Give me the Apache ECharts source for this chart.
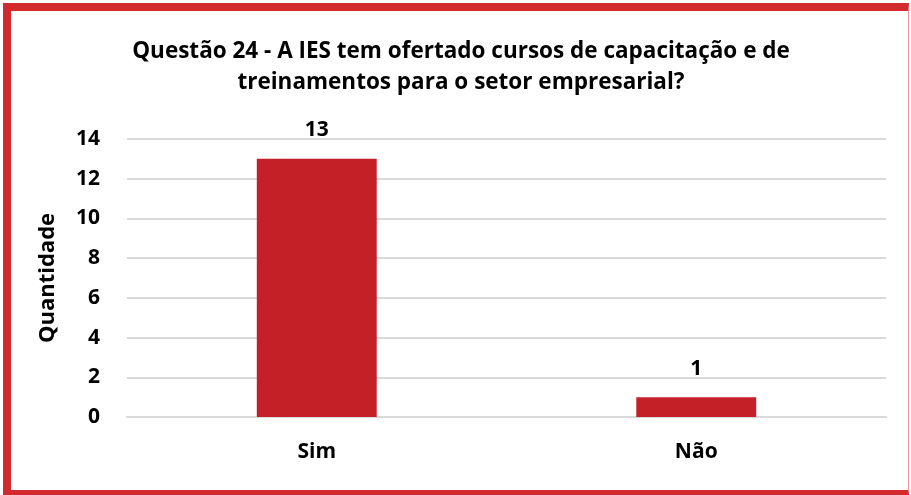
<!DOCTYPE html>
<html>
<head>
<meta charset="utf-8">
<script src="https://cdn.jsdelivr.net/npm/echarts@6/dist/echarts.min.js"></script>
<style>
  html, body { margin: 0; padding: 0; background: #fff; }
  #main { position: absolute; left: 0; top: 0; width: 911px; height: 495px; }
  #frame {
    position: absolute; left: 3px; top: 3px; width: 897px; height: 479px;
    border-left: 8px solid #d32a2e; border-top: 8px solid #d32a2e;
    border-bottom: 5px solid #d32a2e; border-right: 1px solid #ee9a9c;
    pointer-events: none;
  }
</style>
</head>
<body>
<div id="main"></div>
<div id="frame"></div>
<script>
const categories = ['Sim', 'Não'];
const values = [13, 1];
const titleText = 'Questão 24 - A IES tem ofertado cursos de capacitação e de\ntreinamentos para o setor empresarial?';
const yName = 'Quantidade';

const FONT = '"Open Sans", "Liberation Sans", sans-serif';

const chart = echarts.init(document.getElementById('main'), null, { renderer: 'canvas' });

chart.setOption({
  animation: false,
  title: {
    text: titleText,
    left: 456,
    top: 31,
    textAlign: 'center',
    textStyle: {
      fontFamily: FONT,
      fontSize: 22.5,
      fontWeight: 'bold',
      color: '#000',
      lineHeight: 31
    }
  },
  grid: { left: 127, right: 25, top: 139, bottom: 78 },
  xAxis: {
    type: 'category',
    data: categories,
    axisLine: { lineStyle: { color: '#d9d9d9', width: 2 } },
    axisTick: { show: false },
    axisLabel: {
      margin: 25,
      fontFamily: FONT,
      fontSize: 21,
      fontWeight: 'bold',
      color: '#000'
    }
  },
  yAxis: {
    type: 'value',
    min: 0,
    max: 14,
    interval: 2,
    name: yName,
    nameLocation: 'middle',
    nameGap: 68,
    nameTextStyle: {
      fontFamily: FONT,
      fontSize: 22,
      fontWeight: 'bold',
      color: '#000'
    },
    axisLine: { show: false },
    axisTick: { show: false },
    splitLine: { lineStyle: { color: '#d9d9d9', width: 2 } },
    axisLabel: {
      margin: 27,
      fontFamily: FONT,
      fontSize: 21,
      fontWeight: 'bold',
      color: '#000'
    }
  },
  series: [{
    type: 'bar',
    data: values,
    barWidth: '31.6%',
    itemStyle: { color: '#c32027' },
    label: {
      show: true,
      position: 'top',
      distance: 18,
      fontFamily: FONT,
      fontSize: 21,
      fontWeight: 'bold',
      color: '#000'
    }
  }]
});
</script>
</body>
</html>
